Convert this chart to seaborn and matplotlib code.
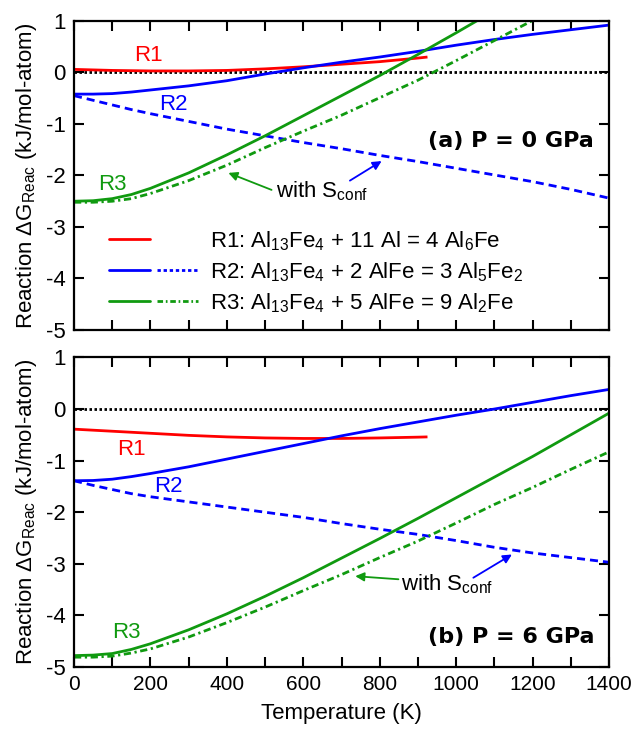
import numpy as np
import pandas as pd
import matplotlib
matplotlib.use("Agg")
import matplotlib.pyplot as plt
import seaborn as sns
from matplotlib.ticker import MultipleLocator
from matplotlib.lines import Line2D
from matplotlib.legend_handler import HandlerTuple

# ---------------- data ----------------
T = [0, 50, 100, 150, 200, 300, 400, 500, 600, 700, 800, 900, 1000, 1100, 1200, 1300, 1400]

# (a) P = 0 GPa
a_R1_T = [0, 100, 200, 300, 400, 500, 600, 700, 800, 900, 925]
a_R1 = [0.06, 0.04, 0.03, 0.03, 0.04, 0.07, 0.11, 0.16, 0.21, 0.28, 0.30]
a_R2 = [-0.42, -0.42, -0.41, -0.38, -0.34, -0.26, -0.16, -0.03, 0.09, 0.20, 0.30, 0.41, 0.53, 0.64, 0.74, 0.83, 0.92]
a_R2_conf = [-0.45, -0.54, -0.63, -0.72, -0.80, -0.95, -1.10, -1.23, -1.36, -1.48, -1.61, -1.73, -1.86, -1.99, -2.12, -2.27, -2.44]
a_R3_T = [0, 50, 100, 150, 200, 300, 400, 500, 600, 700, 800, 900, 1000, 1100]
a_R3 = [-2.50, -2.49, -2.45, -2.37, -2.25, -1.95, -1.60, -1.23, -0.84, -0.45, -0.06, 0.35, 0.77, 1.20]
a_R3c_T = [0, 50, 100, 150, 200, 300, 400, 500, 600, 700, 800, 900, 1000, 1100, 1200, 1250]
a_R3_conf = [-2.52, -2.52, -2.50, -2.45, -2.35, -2.10, -1.80, -1.46, -1.14, -0.83, -0.49, -0.15, 0.23, 0.62, 1.01, 1.20]

# (b) P = 6 GPa
b_R1_T = [0, 100, 200, 300, 400, 500, 600, 700, 800, 900, 925]
b_R1 = [-0.39, -0.43, -0.47, -0.51, -0.54, -0.56, -0.57, -0.57, -0.56, -0.545, -0.54]
b_R2 = [-1.39, -1.385, -1.36, -1.31, -1.25, -1.12, -0.97, -0.82, -0.67, -0.52, -0.38, -0.25, -0.12, 0.00, 0.13, 0.26, 0.38]
b_R2_conf = [-1.39, -1.48, -1.56, -1.64, -1.70, -1.80, -1.90, -2.00, -2.10, -2.22, -2.33, -2.43, -2.55, -2.68, -2.79, -2.88, -2.97]
b_R3 = [-4.78, -4.77, -4.74, -4.66, -4.55, -4.28, -3.97, -3.63, -3.27, -2.89, -2.51, -2.12, -1.72, -1.32, -0.92, -0.50, -0.08]
b_R3_conf = [-4.81, -4.81, -4.79, -4.73, -4.65, -4.42, -4.14, -3.84, -3.52, -3.21, -2.88, -2.56, -2.21, -1.85, -1.52, -1.17, -0.83]

legend_labels = [
    "R1: Al$_{13}$Fe$_{4}$ + 11 Al = 4 Al$_{6}$Fe",
    "R2: Al$_{13}$Fe$_{4}$ + 2 AlFe = 3 Al$_{5}$Fe$_{2}$",
    "R3: Al$_{13}$Fe$_{4}$ + 5 AlFe = 9 Al$_{2}$Fe",
]
panel_titles = ["(a) P = 0 GPa", "(b) P = 6 GPa"]
ylabel = "Reaction ΔG$_{Reac}$ (kJ/mol-atom)"
xlabel = "Temperature (K)"

RED = "#ff0000"
BLUE = "#0000ff"
GREEN = "#109a10"

# ---------------- style ----------------
sns.set_style("ticks")
plt.rcParams["font.family"] = ["Liberation Sans", "DejaVu Sans"]
plt.rcParams["mathtext.fontset"] = "custom"
plt.rcParams["mathtext.rm"] = "Liberation Sans"
plt.rcParams["mathtext.default"] = "regular"
plt.rcParams["axes.unicode_minus"] = False
plt.rcParams["text.color"] = "black"
plt.rcParams["axes.labelcolor"] = "black"
FS = 16

fig = plt.figure(figsize=(6.32, 7.31), dpi=100)
ax_a = fig.add_axes([0.1171, 0.5486, 0.8465, 0.4227])
ax_b = fig.add_axes([0.1171, 0.0876, 0.8465, 0.4234])

DASH = (2.9, 1.8)
DASHDOT = (2.6, 1.3, 0.8, 1.3)
LW = 2.0


def draw(ax, x, y, color, dashes=None):
    df = pd.DataFrame({"T": x, "G": y})
    sns.lineplot(data=df, x="T", y="G", ax=ax, color=color, lw=LW,
                 estimator=None, sort=False)
    ln = ax.lines[-1]
    if dashes is not None:
        ln.set_dashes(dashes)
    ln.set_solid_capstyle("butt")
    return ln


def panel(ax, R1T, R1, R2, R2c, R3T, R3, R3cT, R3c):
    ax.axhline(0, color="black", ls=(0, (0.9, 0.9)), lw=2.0, zorder=1)
    draw(ax, R1T, R1, RED)
    draw(ax, T, R2, BLUE)
    draw(ax, T, R2c, BLUE, DASH)
    draw(ax, R3T, R3, GREEN)
    draw(ax, R3cT, R3c, GREEN, DASHDOT)
    ax.set_xlim(0, 1400)
    ax.set_ylim(-5, 1)
    ax.xaxis.set_major_locator(MultipleLocator(200))
    ax.xaxis.set_minor_locator(MultipleLocator(100))
    ax.yaxis.set_major_locator(MultipleLocator(1))
    ax.tick_params(which="both", direction="in", top=True, right=True,
                   length=7, width=1.5, labelsize=FS, colors="black")
    ax.tick_params(axis="x", pad=6, labelsize=15)
    ax.tick_params(axis="y", pad=6)
    for s in ax.spines.values():
        s.set_linewidth(1.6)
        s.set_color("black")
    ax.set_ylabel(ylabel, fontsize=FS, labelpad=5)
    ax.set_xlabel("")


panel(ax_a, a_R1_T, a_R1, a_R2, a_R2_conf, a_R3_T, a_R3, a_R3c_T, a_R3_conf)
panel(ax_b, b_R1_T, b_R1, b_R2, b_R2_conf, T, b_R3, T, b_R3_conf)

ax_a.tick_params(axis="x", labelbottom=False)
ax_b.set_xlabel(xlabel, fontsize=FS, labelpad=6)

# curve labels
ax_a.text(195, 0.32, "R1", color=RED, fontsize=FS, ha="center", va="center")
ax_a.text(260, -0.63, "R2", color=BLUE, fontsize=FS, ha="center", va="center")
ax_a.text(101, -2.17, "R3", color=GREEN, fontsize=FS, ha="center", va="center")
ax_b.text(151, -0.79, "R1", color=RED, fontsize=FS, ha="center", va="center")
ax_b.text(247, -1.50, "R2", color=BLUE, fontsize=FS, ha="center", va="center")
ax_b.text(138, -4.33, "R3", color=GREEN, fontsize=FS, ha="center", va="center")

for ax, title, yt in [(ax_a, panel_titles[0], -1.33), (ax_b, panel_titles[1], -4.42)]:
    ax.text(1361, yt, title, fontsize=16, fontweight="bold", ha="right",
            va="center", family="DejaVu Sans", color="black")

# "with S_conf" annotations
ax_a.text(528, -2.42, "with S$_{conf}$", fontsize=FS, ha="left", va="baseline")
ax_a.annotate("", xy=(404, -1.95), xytext=(517, -2.28),
              arrowprops=dict(arrowstyle="-|>", color=GREEN, lw=1.3, mutation_scale=13, shrinkA=0, shrinkB=0))
ax_a.annotate("", xy=(805, -1.72), xytext=(722, -2.10),
              arrowprops=dict(arrowstyle="-|>", color=BLUE, lw=1.3, mutation_scale=13, shrinkA=0, shrinkB=0))
ax_b.text(856, -3.51, "with S$_{conf}$", fontsize=FS, ha="left", va="baseline")
ax_b.annotate("", xy=(736, -3.24), xytext=(849, -3.30),
              arrowprops=dict(arrowstyle="-|>", color=GREEN, lw=1.3, mutation_scale=13, shrinkA=0, shrinkB=0))
ax_b.annotate("", xy=(1146, -2.82), xytext=(1045, -3.27),
              arrowprops=dict(arrowstyle="-|>", color=BLUE, lw=1.3, mutation_scale=13, shrinkA=0, shrinkB=0))

# legend in panel (a)
h_red = Line2D([], [], color=RED, lw=LW)
h_none = Line2D([], [], color="none", lw=LW)
h_blue = Line2D([], [], color=BLUE, lw=LW)
h_blue_d = Line2D([], [], color=BLUE, lw=LW, dashes=(1.2, 1.0))
h_green = Line2D([], [], color=GREEN, lw=LW)
h_green_d = Line2D([], [], color=GREEN, lw=LW, dashes=(2.0, 1.0, 0.6, 1.0))
ax_a.legend([(h_red, h_none), (h_blue, h_blue_d), (h_green, h_green_d)], legend_labels,
            handler_map={tuple: HandlerTuple(ndivide=None, pad=0.3)},
            loc="upper left", bbox_to_anchor=(0.065, 0.327), frameon=False,
            fontsize=FS, handlelength=4.0, handletextpad=0.55, labelspacing=0.34,
            borderpad=0, borderaxespad=0)

fig.savefig("out.png", dpi=100)
